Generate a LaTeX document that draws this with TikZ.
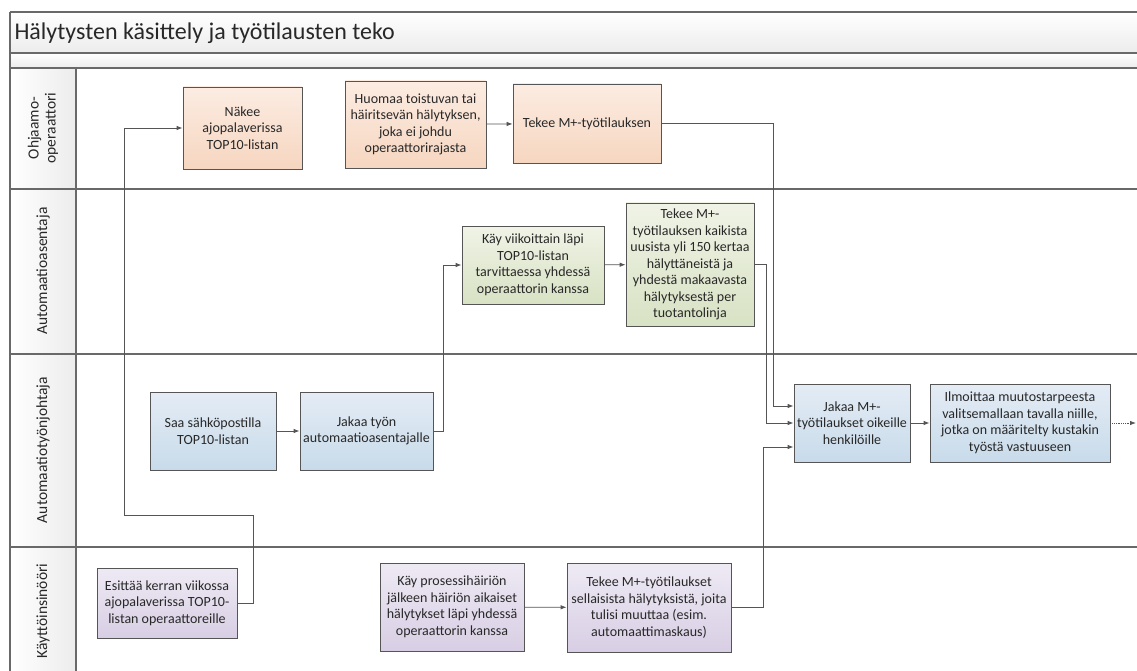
\documentclass[tikz,border=0pt]{standalone}
\usepackage{fontspec}
\setmainfont{Carlito}
\usetikzlibrary{arrows.meta}
\definecolor{laneLineColor}{RGB}{105,105,105}
\definecolor{boxBorder}{RGB}{85,85,85}
\definecolor{textColor}{RGB}{40,40,40}
\definecolor{bandTop}{RGB}{255,255,255}
\definecolor{bandBottom}{RGB}{236,236,236}
\definecolor{operatorTop}{RGB}{252,236,226}
\definecolor{operatorBottom}{RGB}{246,214,192}
\definecolor{installerTop}{RGB}{240,243,230}
\definecolor{installerBottom}{RGB}{216,226,196}
\definecolor{supervisorTop}{RGB}{228,236,245}
\definecolor{supervisorBottom}{RGB}{200,219,234}
\definecolor{engineerTop}{RGB}{238,234,244}
\definecolor{engineerBottom}{RGB}{216,206,228}
\tikzstyle{swimlane} = [x = 1pt, y = -1pt]
\tikzstyle{laneLine} = [color=laneLineColor, line width=1.5pt]
\tikzstyle{laneText} = [rotate=90, align=center, text=textColor, font=\fontsize{15.5}{17}\selectfont]
\tikzstyle{titleText} = [anchor=west, text=textColor, font=\fontsize{24}{27}\selectfont]
\tikzstyle{taskStyle} = [draw=boxBorder, line width=.8pt, align=center, text=textColor, inner sep=2pt, font=\fontsize{14}{16.5}\selectfont]
\tikzstyle{operatorBox} = [taskStyle, top color=operatorTop, bottom color=operatorBottom]
\tikzstyle{installerBox} = [taskStyle, top color=installerTop, bottom color=installerBottom]
\tikzstyle{supervisorBox} = [taskStyle, top color=supervisorTop, bottom color=supervisorBottom]
\tikzstyle{engineerBox} = [taskStyle, top color=engineerTop, bottom color=engineerBottom]
\tikzstyle{flowArrow} = [color=boxBorder, line width=.8pt, -{Latex[length=6pt, width=4.5pt]}]
\newcommand{\taskBox}[7]{\node [#6, minimum width=#4pt, minimum height=#5pt] (#1) at (#2, #3) {#7};}
\newcommand{\laneSeparator}[1]{\draw [laneLine] (10, #1) -- (1137, #1);}
\newcommand{\laneLabel}[3]{\node [laneText] (#1) at (43, #2) {#3};}

\begin{document}
\begin{tikzpicture}[swimlane]
  \useasboundingbox (0, 0) rectangle (1137, 671);
  \fill [top color=bandTop, bottom color=bandBottom] (10, 12) rectangle (1137, 53);
  \fill [top color=bandTop, bottom color=bandBottom] (10, 53) rectangle (1137, 68);
  \fill [left color=bandTop, right color=bandBottom] (10, 68) rectangle (76, 671);
  \laneSeparator{12}
  \laneSeparator{53}
  \laneSeparator{68}
  \laneSeparator{189}
  \laneSeparator{354}
  \laneSeparator{547}
  \draw [laneLine] (10, 12) -- (10, 671);
  \draw [laneLine] (76, 68) -- (76, 671);
  \node [titleText] (title) at (11, 33) {Hälytysten käsittely ja työtilausten teko};

  \laneLabel{operatorLane}{128}{Ohjaamo-\\operaattori}
  \laneLabel{installerLane}{271}{Automaatioasentaja}
  \laneLabel{supervisorLane}{450}{Automaatiotyönjohtaja}
  \laneLabel{engineerLane}{611}{Käyttöinsinööri}

  \taskBox{sees}{242.5}{128}{119}{82}{operatorBox}{Näkee\\ajopalaverissa\\TOP10-listan}
  \taskBox{notices}{415.5}{124.5}{141}{87}{operatorBox}{Huomaa toistuvan tai\\häiritsevän hälytyksen,\\joka ei johdu\\operaattorirajasta}
  \taskBox{orders}{587}{123.5}{148}{79}{operatorBox}{Tekee M+-työtilauksen}
  \taskBox{reviews}{533}{265}{142}{78}{installerBox}{Käy viikoittain läpi\\TOP10-listan\\tarvittaessa yhdessä\\operaattorin kanssa}
  \taskBox{ordersAll}{690}{264.5}{128}{123}{installerBox}{Tekee M+-\\työtilauksen kaikista\\uusista yli 150 kertaa\\hälyttäneistä ja\\yhdestä makaavasta\\hälytyksestä per\\tuotantolinja}
  \taskBox{receives}{213}{431}{126}{78}{supervisorBox}{Saa sähköpostilla\\TOP10-listan}
  \taskBox{assigns}{366.5}{431}{133}{78}{supervisorBox}{Jakaa työn\\automaatioasentajalle}
  \taskBox{distributes}{852}{423}{116}{78}{supervisorBox}{Jakaa M+-\\työtilaukset oikeille\\henkilöille}
  \taskBox{informs}{1020}{423}{180}{78}{supervisorBox}{Ilmoittaa muutostarpeesta\\valitsemallaan tavalla niille,\\jotka on määritelty kustakin\\työstä vastuuseen}
  \taskBox{presents}{167}{603}{140}{70}{engineerBox}{Esittää kerran viikossa\\ajopalaverissa TOP10-\\listan operaattoreille}
  \taskBox{goesThrough}{452}{607}{144}{88}{engineerBox}{Käy prosessihäiriön\\jälkeen häiriön aikaiset\\hälytykset läpi yhdessä\\operaattorin kanssa}
  \taskBox{ordersChanges}{649}{607.5}{164}{89}{engineerBox}{Tekee M+-työtilaukset\\sellaisista hälytyksistä, joita\\tulisi muuttaa (esim.\\automaattimaskaus)}
  \coordinate (offPage) at (1136, 423);

  \draw [flowArrow] (presents.east) -| (253, 515) -- (124, 515) |- (sees.west);
  \draw [flowArrow] (notices) -- (orders);
  \draw [flowArrow] (receives) -- (assigns);
  \draw [flowArrow] (assigns.east) -- ++(10, 0) |- (reviews.west);
  \draw [flowArrow] (reviews) -- (ordersAll);
  \draw [flowArrow] (orders.east) -| ([xshift=-20pt, yshift=17pt]distributes.west) -- ([yshift=17pt]distributes.west);
  \draw [flowArrow] (ordersAll.east) -| ([xshift=-27pt]distributes.west) -- (distributes.west);
  \draw [flowArrow] (ordersChanges.east) -| ([xshift=-30pt, yshift=-24pt]distributes.west) -- ([yshift=-24pt]distributes.west);
  \draw [flowArrow] (goesThrough) -- (ordersChanges);
  \draw [flowArrow] (distributes) -- (informs);
  \draw [flowArrow, densely dotted] (informs) -- (offPage);
\end{tikzpicture}
\end{document}
